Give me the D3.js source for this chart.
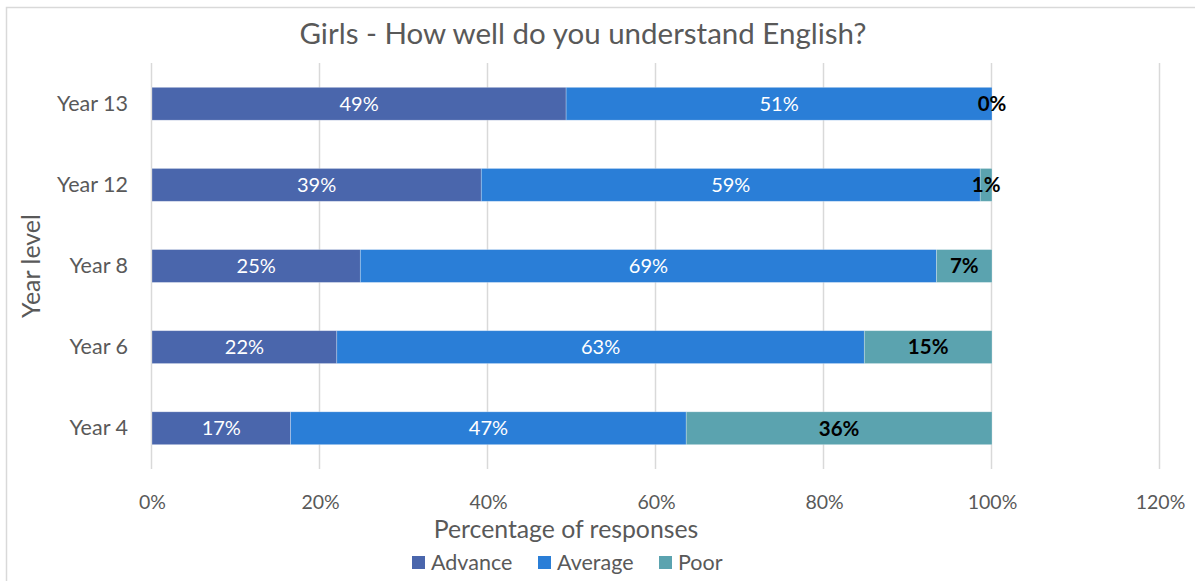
<!DOCTYPE html>
<html><head><meta charset="utf-8">
<script src="https://cdn.jsdelivr.net/npm/d3@7"></script>
<style>body{margin:0;background:#fff;} svg{display:block;}</style>
</head><body>
<div id="chart"></div>
<script>
const categories = ["Year 13", "Year 12", "Year 8", "Year 6", "Year 4"];
const seriesNames = ["Advance", "Average", "Poor"];
const advance = [0.493, 0.392, 0.248, 0.220, 0.165];
const average = [0.507, 0.594, 0.686, 0.628, 0.471];
const poor    = [0.000, 0.014, 0.066, 0.152, 0.364];
const xTicks = [0, 0.2, 0.4, 0.6, 0.8, 1.0, 1.2];
const colors = ["#4A66AC", "#2A7ED7", "#5BA3AF"];
const title = "Girls - How well do you understand English?";
const xTitle = "Percentage of responses";
const yTitle = "Year level";

const W = 1195, H = 581;
const font = "Lato, 'Open Sans', sans-serif";
const svg = d3.select("#chart").append("svg").attr("width", W).attr("height", H);
svg.append("rect").attr("x", 6.5).attr("y", 7.5).attr("width", W + 10).attr("height", H)
  .attr("fill", "#fff").attr("stroke", "#d9d9d9").attr("stroke-width", 1.5);

const x = d3.scaleLinear().domain([0, 1.2]).range([152, 1160]);
const y = d3.scaleBand().domain(categories).range([63, 469]).paddingInner(0.595).paddingOuter(0.3);

// gridlines
svg.append("g").selectAll("line").data(xTicks).join("line")
  .attr("x1", d => Math.round(x(d)) - 0.5).attr("x2", d => Math.round(x(d)) - 0.5)
  .attr("y1", 63).attr("y2", 469).attr("stroke", "#d9d9d9").attr("stroke-width", 1.5);

const rows = categories.map((c, i) => ({cat: c, vals: [advance[i], average[i], poor[i]]}));
const segs = [];
rows.forEach(r => { let s = 0; r.vals.forEach((v, j) => { segs.push({cat: r.cat, j, x0: s, x1: s + v, v}); s += v; }); });

svg.append("g").selectAll("rect").data(segs.filter(d => d.v > 0)).join("rect")
  .attr("x", d => x(d.x0)).attr("width", d => x(d.x1) - x(d.x0))
  .attr("y", d => y(d.cat)).attr("height", y.bandwidth())
  .attr("fill", d => colors[d.j]).attr("stroke", "rgba(255,255,255,0.35)").attr("stroke-width", 0.75);

svg.append("g").selectAll("text").data(segs).join("text")
  .attr("x", d => x((d.x0 + d.x1) / 2)).attr("y", d => y(d.cat) + y.bandwidth() / 2)
  .attr("dy", "0.36em").attr("text-anchor", "middle")
  .attr("font-family", font)
  .attr("font-size", d => d.j === 2 ? 20.5 : 20)
  .attr("font-weight", d => d.j === 2 ? "bold" : "normal")
  .attr("fill", d => d.j === 2 ? "#000" : "#fff")
  .text(d => Math.round(d.v * 100) + "%");

// y labels
const yAxis = d3.axisLeft(y).tickSize(0).tickPadding(24);
const gy = svg.append("g").attr("transform", "translate(152,0)").call(yAxis);
gy.select(".domain").remove();
gy.selectAll("text").attr("font-family", font).attr("font-size", 21.5).attr("fill", "#595959");

// x labels
const xAxis = d3.axisBottom(x).tickValues(xTicks).tickSize(0).tickPadding(26).tickFormat(d => Math.round(d * 100) + "%");
const gx = svg.append("g").attr("transform", "translate(0,469)").call(xAxis);
gx.select(".domain").remove();
gx.selectAll("text").attr("font-family", font).attr("font-size", 19.5).attr("fill", "#595959");

svg.append("text").attr("x", 583).attr("y", 44).attr("text-anchor", "middle")
  .attr("font-family", font).attr("font-size", 29.5).attr("fill", "#595959").text(title);
svg.append("text").attr("x", 566).attr("y", 538).attr("text-anchor", "middle")
  .attr("font-family", font).attr("font-size", 24.8).attr("fill", "#595959").text(xTitle);
svg.append("text").attr("transform", "translate(40,266) rotate(-90)").attr("text-anchor", "middle")
  .attr("font-family", font).attr("font-size", 25).attr("fill", "#595959").text(yTitle);

// legend
const legX = [412, 538, 659];
const lg = svg.append("g").selectAll("g").data(seriesNames).join("g")
  .attr("transform", (d, i) => `translate(${legX[i]},556)`);
lg.append("rect").attr("width", 13).attr("height", 13).attr("fill", (d, i) => colors[i]);
lg.append("text").attr("x", 19).attr("y", 6.5).attr("dy", "0.36em")
  .attr("font-family", font).attr("font-size", 21.5).attr("fill", "#595959").text(d => d);
</script>
</body></html>
